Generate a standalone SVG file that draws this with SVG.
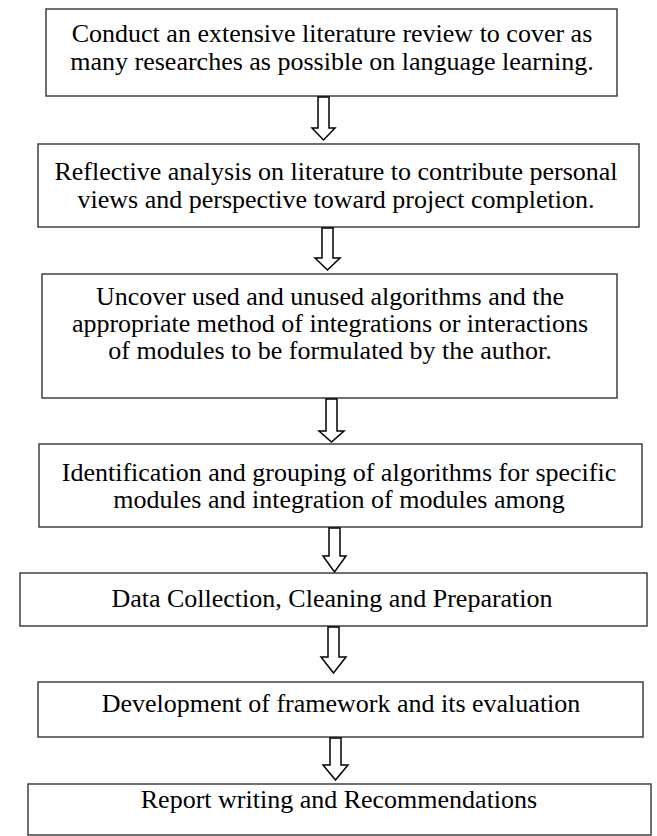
<svg xmlns="http://www.w3.org/2000/svg" width="657" height="836" viewBox="0 0 657 836">
<style>
.box{fill:#fff;stroke:#333;stroke-width:1.4}
.t{font-family:"Liberation Serif","Times New Roman",serif;font-size:26px;fill:#000;text-anchor:middle}
.arr{fill:#fff;stroke:#000;stroke-width:1.5;stroke-linejoin:miter}
</style>
<rect width="657" height="836" fill="#fff"/>
<g id="n1"><rect class="box" x="46" y="9" width="571" height="87"/>
<text class="t" x="332" y="42">Conduct an extensive literature review to cover as</text>
<text class="t" x="332" y="70">many researches as possible on language learning.</text></g>
<g id="n2"><rect class="box" x="38" y="144" width="601" height="83"/>
<text class="t" x="336" y="180">Reflective analysis on literature to contribute personal</text>
<text class="t" x="336" y="208">views and perspective toward project completion.</text></g>
<g id="n3"><rect class="box" x="42" y="274" width="575" height="124"/>
<text class="t" x="330" y="305">Uncover used and unused algorithms and the</text>
<text class="t" x="330" y="332">appropriate method of integrations or interactions</text>
<text class="t" x="330" y="359">of modules to be formulated by the author.</text></g>
<g id="n4"><rect class="box" x="39" y="444" width="603" height="83"/>
<text class="t" x="339" y="481">Identification and grouping of algorithms for specific</text>
<text class="t" x="339" y="508">modules and integration of modules among</text></g>
<g id="n5"><rect class="box" x="20" y="573" width="627" height="53"/>
<text class="t" x="332" y="607">Data Collection, Cleaning and Preparation</text></g>
<g id="n6"><rect class="box" x="38" y="682" width="605" height="55"/>
<text class="t" x="341" y="712">Development of framework and its evaluation</text></g>
<g id="n7"><rect class="box" x="28" y="784" width="623" height="51"/>
<text class="t" x="339" y="808">Report writing and Recommendations</text></g>
<g id="connectors">
<path class="arr" d="M318,97 H329 V128 H335 L323.5,140 L312,128 H318 Z"/>
<path class="arr" d="M322,228 H333 V258 H340 L327.5,270 L315,258 H322 Z"/>
<path class="arr" d="M326,399 H337 V431 H344 L331.5,442 L319,431 H326 Z"/>
<path class="arr" d="M329,528 H340 V556 H346 L334.5,572 L323,556 H329 Z"/>
<path class="arr" d="M328,627 H339 V657 H346 L333.5,673 L321,657 H328 Z"/>
<path class="arr" d="M330,738 H341 V765 H348 L335.5,780 L323,765 H330 Z"/>
</g>
</svg>
